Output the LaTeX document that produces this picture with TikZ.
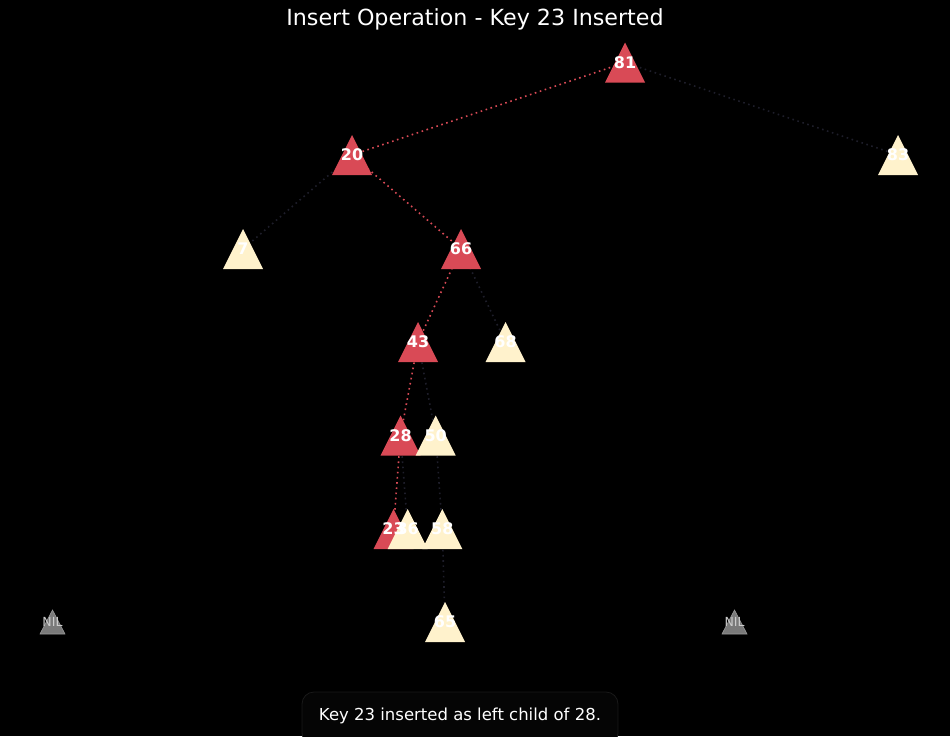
\documentclass[tikz,border=0pt]{standalone}
\usepackage{fontspec}
\setmainfont{DejaVu Sans}
\usetikzlibrary{calc}
\definecolor{bg}{HTML}{000000}
\definecolor{pathred}{HTML}{D94A56}
\definecolor{cream}{HTML}{FFF2CC}
\definecolor{darkedge}{HTML}{1E1E2A}
\definecolor{nilgray}{HTML}{7A7A7A}
\definecolor{nilline}{HTML}{9A9A9A}
\tikzset{
  rededge/.style={draw=pathred, line width=1.6pt, dash pattern=on 1.6pt off 3.6pt},
  darkline/.style={draw=darkedge, line width=1.6pt, dash pattern=on 1.6pt off 3.6pt},
  redtri/.style={fill=pathred},
  creamtri/.style={fill=cream},
  niltri/.style={fill=nilgray, draw=nilline, line width=0.6pt},
  lbl/.style={text=white, font=\fontsize{16}{16}\selectfont\bfseries, inner sep=0pt},
  nillbl/.style={text=white!80!black, font=\fontsize{12.5}{12.5}\selectfont, inner sep=0pt},
  titlelbl/.style={text=white, font=\fontsize{22.2}{24}\selectfont, inner sep=0pt},
  captionbox/.style={draw=white!10!black, fill=white!2!black, line width=0.8pt, rounded corners=12pt},
  captionlbl/.style={text=white, font=\fontsize{16.5}{18}\selectfont, inner sep=0pt}
}
\newcommand{\tri}[2]{\path[#1] ($(#2)+(0,-20)$) -- ++(20,40) -- ++(-40,0) -- cycle;}
\newcommand{\niltri}[1]{\path[niltri] ($(#1)+(0,-12)$) -- ++(12.5,24) -- ++(-25,0) -- cycle;}
\begin{document}
\begin{tikzpicture}[x=1pt,y=-1pt]
\fill[bg] (0,0) rectangle (950,736);
\useasboundingbox (0,0) rectangle (950,736);
% positions
\coordinate (n81) at (625,62.5);
\coordinate (n20) at (352,155);
\coordinate (n83) at (898,155);
\coordinate (n7) at (243,249);
\coordinate (n66) at (461,249);
\coordinate (n43) at (418,342);
\coordinate (n68) at (505.5,342);
\coordinate (n28) at (400.5,435.5);
\coordinate (n50) at (435.7,435.5);
\coordinate (n23) at (393.5,529);
\coordinate (n36) at (407.7,529);
\coordinate (n58) at (442.3,529);
\coordinate (n65) at (445,622);
\coordinate (nilA) at (52.5,622);
\coordinate (nilB) at (734.5,622);
% edges
\draw[rededge] (n81) -- (n20);
\draw[darkline] (n81) -- (n83);
\draw[darkline] (n20) -- (n7);
\draw[rededge] (n20) -- (n66);
\draw[rededge] (n66) -- (n43);
\draw[darkline] (n66) -- (n68);
\draw[rededge] (n43) -- (n28);
\draw[darkline] (n43) -- (n50);
\draw[rededge] (n28) -- (n23);
\draw[darkline] (n28) -- (n36);
\draw[darkline] (n50) -- (n58);
\draw[darkline] (n58) -- (n65);
% triangles
\tri{redtri}{n81}
\tri{creamtri}{n83}
\tri{redtri}{n20}
\tri{creamtri}{n7}
\tri{redtri}{n66}
\tri{redtri}{n43}
\tri{creamtri}{n68}
\tri{redtri}{n28}
\tri{creamtri}{n50}
\tri{redtri}{n23}
\tri{creamtri}{n36}
\tri{creamtri}{n58}
\tri{creamtri}{n65}
\niltri{nilA}
\niltri{nilB}
% labels
\node[lbl] (l81) at (n81) {81};
\node[lbl] (l83) at (n83) {83};
\node[lbl] (l20) at (n20) {20};
\node[lbl] (l7) at (n7) {7};
\node[lbl] (l66) at (n66) {66};
\node[lbl] (l43) at (n43) {43};
\node[lbl] (l68) at (n68) {68};
\node[lbl] (l28) at (n28) {28};
\node[lbl] (l50) at (n50) {50};
\node[lbl] (l23) at (n23) {23};
\node[lbl] (l36) at (n36) {36};
\node[lbl] (l58) at (n58) {58};
\node[lbl] (l65) at (n65) {65};
\node[nillbl] (lnilA) at (nilA) {NIL};
\node[nillbl] (lnilB) at (nilB) {NIL};
% title
\node[titlelbl] (title) at (475,19) {Insert Operation - Key 23 Inserted};
% caption
\path[captionbox] (302,692) rectangle (618,745);
\node[captionlbl] (caption) at (460,716) {Key 23 inserted as left child of 28.};
\end{tikzpicture}
\end{document}
